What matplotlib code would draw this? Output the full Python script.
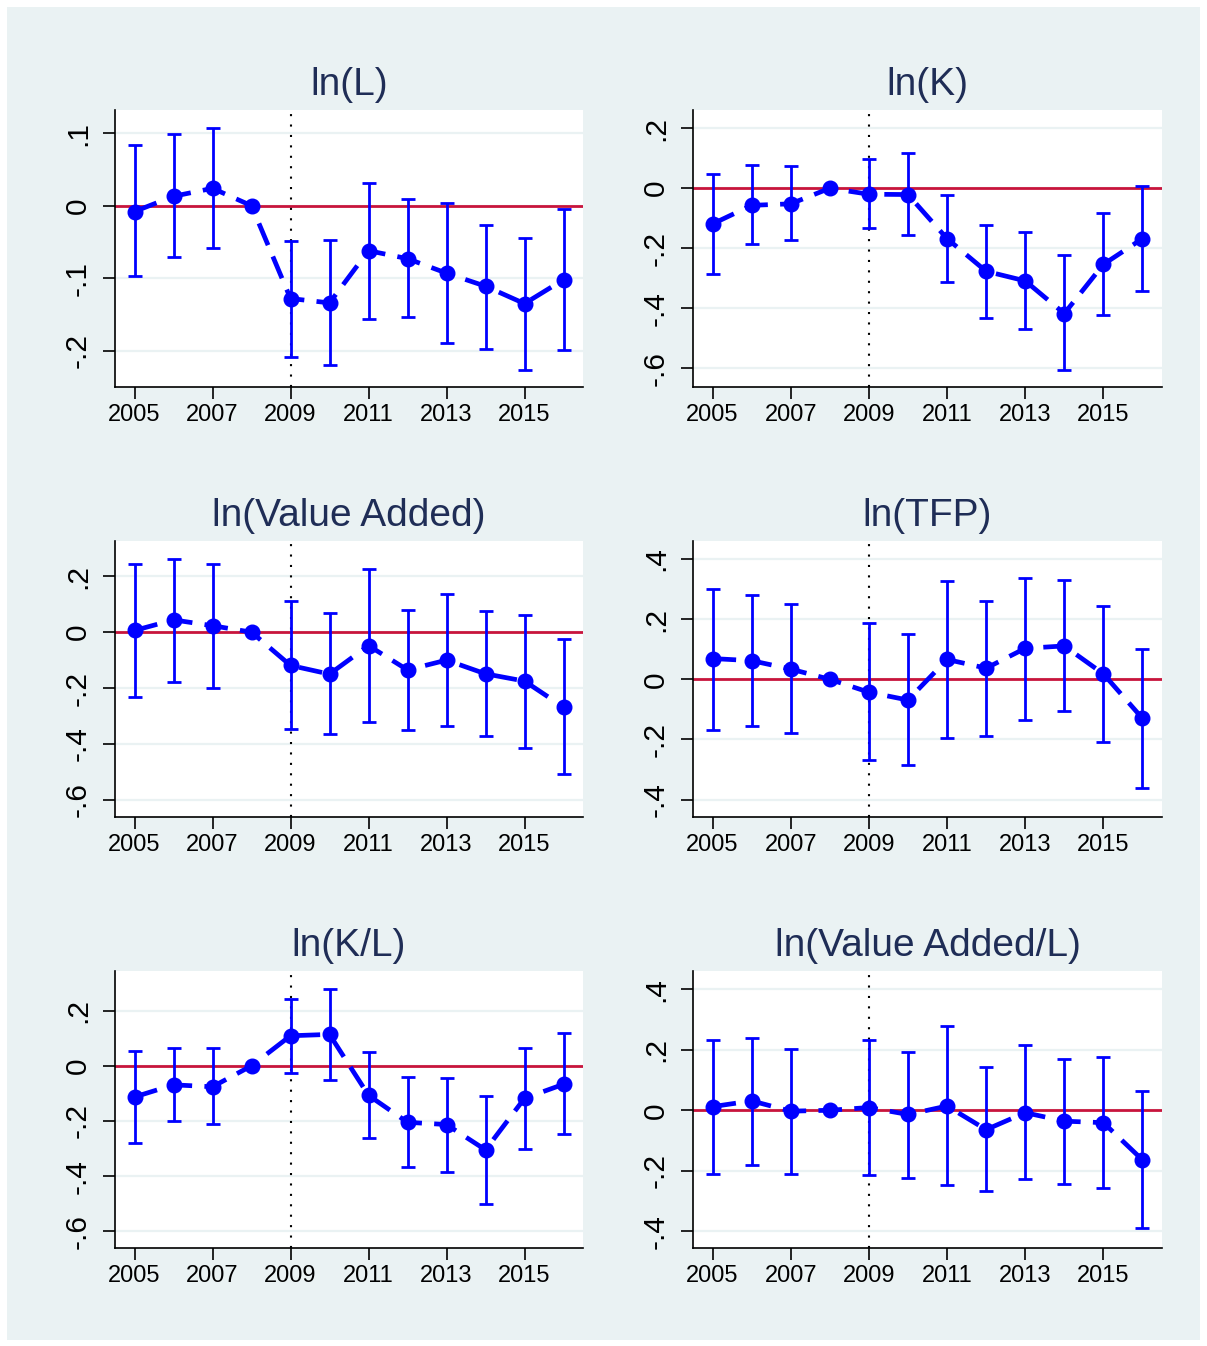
import matplotlib
matplotlib.use('Agg')
import matplotlib.pyplot as plt
from matplotlib.patches import Rectangle

plt.rcParams['font.family'] = ['Liberation Sans', 'DejaVu Sans']

years = list(range(2005, 2017))
xticks = [2005, 2007, 2009, 2011, 2013, 2015]

# ln(L)
l_coef = [-0.008, 0.013, 0.024, 0.0, -0.128, -0.134, -0.062, -0.073, -0.093, -0.111, -0.135, -0.102]
l_hi = [0.084, 0.099, 0.107, 0.0, -0.049, -0.047, 0.032, 0.009, 0.004, -0.026, -0.044, -0.005]
l_lo = [-0.097, -0.071, -0.058, 0.0, -0.208, -0.220, -0.156, -0.154, -0.190, -0.197, -0.226, -0.199]

# ln(K)
k_coef = [-0.119, -0.057, -0.052, 0.0, -0.020, -0.021, -0.168, -0.277, -0.309, -0.418, -0.254, -0.168]
k_hi = [0.048, 0.076, 0.074, 0.0, 0.097, 0.118, -0.023, -0.122, -0.146, -0.224, -0.083, 0.009]
k_lo = [-0.287, -0.187, -0.173, 0.0, -0.134, -0.157, -0.313, -0.433, -0.470, -0.606, -0.424, -0.343]

# ln(Value Added)
va_coef = [0.006, 0.044, 0.023, 0.0, -0.119, -0.150, -0.048, -0.135, -0.100, -0.149, -0.175, -0.268]
va_hi = [0.243, 0.263, 0.245, 0.0, 0.110, 0.069, 0.226, 0.081, 0.138, 0.075, 0.061, -0.025]
va_lo = [-0.232, -0.179, -0.201, 0.0, -0.348, -0.365, -0.321, -0.351, -0.336, -0.371, -0.413, -0.507]

# ln(TFP)
tfp_coef = [0.069, 0.062, 0.034, 0.0, -0.043, -0.069, 0.066, 0.037, 0.103, 0.111, 0.018, -0.130]
tfp_hi = [0.302, 0.281, 0.249, 0.0, 0.186, 0.150, 0.326, 0.260, 0.338, 0.329, 0.243, 0.100]
tfp_lo = [-0.167, -0.156, -0.180, 0.0, -0.268, -0.284, -0.196, -0.190, -0.136, -0.105, -0.207, -0.360]

# ln(K/L)
kl_coef = [-0.113, -0.069, -0.076, 0.0, 0.109, 0.114, -0.107, -0.205, -0.213, -0.305, -0.118, -0.067]
kl_hi = [0.055, 0.064, 0.065, 0.0, 0.244, 0.279, 0.050, -0.042, -0.045, -0.109, 0.064, 0.120]
kl_lo = [-0.279, -0.202, -0.212, 0.0, -0.027, -0.053, -0.262, -0.368, -0.384, -0.500, -0.302, -0.248]

# ln(Value Added/L)
val_coef = [0.012, 0.031, -0.003, 0.0, 0.009, -0.014, 0.014, -0.064, -0.008, -0.036, -0.041, -0.164]
val_hi = [0.233, 0.240, 0.203, 0.0, 0.233, 0.194, 0.277, 0.143, 0.215, 0.170, 0.177, 0.063]
val_lo = [-0.210, -0.180, -0.209, 0.0, -0.214, -0.224, -0.247, -0.268, -0.228, -0.244, -0.257, -0.390]

bg = '#eaf2f3'
blue = '#0000ff'
red = '#c8143c'
navy = '#1f2d56'

W, H = 1207, 1346
fig = plt.figure(figsize=(W / 100, H / 100), dpi=100)
fig.patch.set_facecolor('white')
fig.patches.append(Rectangle((7 / W, 6 / H), (1200 - 7) / W, (1340 - 7) / H,
                             transform=fig.transFigure, facecolor=bg, edgecolor='none', zorder=-10))


def fmt(v):
    if abs(v) < 1e-9:
        return '0'
    s = '%.1f' % v
    return s.replace('0.', '.')


def panel(box, title, coef, lo, hi, ylim, yticks):
    left, top, right, bottom = box
    ax = fig.add_axes([left / W, 1 - bottom / H, (right - left) / W, (bottom - top) / H])
    ax.set_facecolor('white')
    for t in yticks:
        ax.axhline(t, color=bg, lw=1.6, zorder=0)
    ax.axhline(0, color=red, lw=2.0, zorder=1)
    ax.axvline(2009, color='black', lw=1.5, linestyle=(0, (1, 4)), zorder=1)
    yerr = [[c - l for c, l in zip(coef, lo)], [h - c for c, h in zip(coef, hi)]]
    ax.errorbar(years, coef, yerr=yerr, fmt='none', ecolor=blue, elinewidth=2.0,
                capsize=5, capthick=2.0, zorder=3)
    ax.plot(years, coef, color=blue, lw=3.4, dashes=(5, 2.6), zorder=4)
    ax.plot(years, coef, 'o', color=blue, ms=10.5, zorder=5)
    ax.set_xlim(2004.5, 2016.5)
    ax.set_ylim(*ylim)
    ax.set_xticks(xticks)
    ax.set_xticklabels([str(x) for x in xticks])
    ax.set_yticks(yticks)
    ax.set_yticklabels([fmt(t) for t in yticks], rotation=90, va='center')
    ax.tick_params(axis='both', length=8.5, width=1.2, colors='black')
    ax.tick_params(axis='y', labelsize=21.5, pad=8)
    ax.tick_params(axis='x', labelsize=17, pad=4)
    ax.spines['top'].set_visible(False)
    ax.spines['right'].set_visible(False)
    ax.spines['left'].set_linewidth(1.2)
    ax.spines['bottom'].set_linewidth(1.2)
    ax.set_title(title, fontsize=28, color=navy, pad=11)
    return ax


panel((115, 110, 583, 387), 'ln(L)', l_coef, l_lo, l_hi, (-0.25, 0.132), [-0.2, -0.1, 0, 0.1])
panel((693, 110, 1162, 387), 'ln(K)', k_coef, k_lo, k_hi, (-0.663, 0.261), [-0.6, -0.4, -0.2, 0, 0.2])
panel((115, 541, 583, 817), 'ln(Value Added)', va_coef, va_lo, va_hi, (-0.661, 0.326), [-0.6, -0.4, -0.2, 0, 0.2])
panel((693, 541, 1162, 817), 'ln(TFP)', tfp_coef, tfp_lo, tfp_hi, (-0.458, 0.46), [-0.4, -0.2, 0, 0.2, 0.4])
panel((115, 971, 583, 1248), 'ln(K/L)', kl_coef, kl_lo, kl_hi, (-0.661, 0.344), [-0.6, -0.4, -0.2, 0, 0.2])
panel((693, 971, 1162, 1248), 'ln(Value Added/L)', val_coef, val_lo, val_hi, (-0.455, 0.46), [-0.4, -0.2, 0, 0.2, 0.4])

fig.savefig('out.png', dpi=100, facecolor='white')
